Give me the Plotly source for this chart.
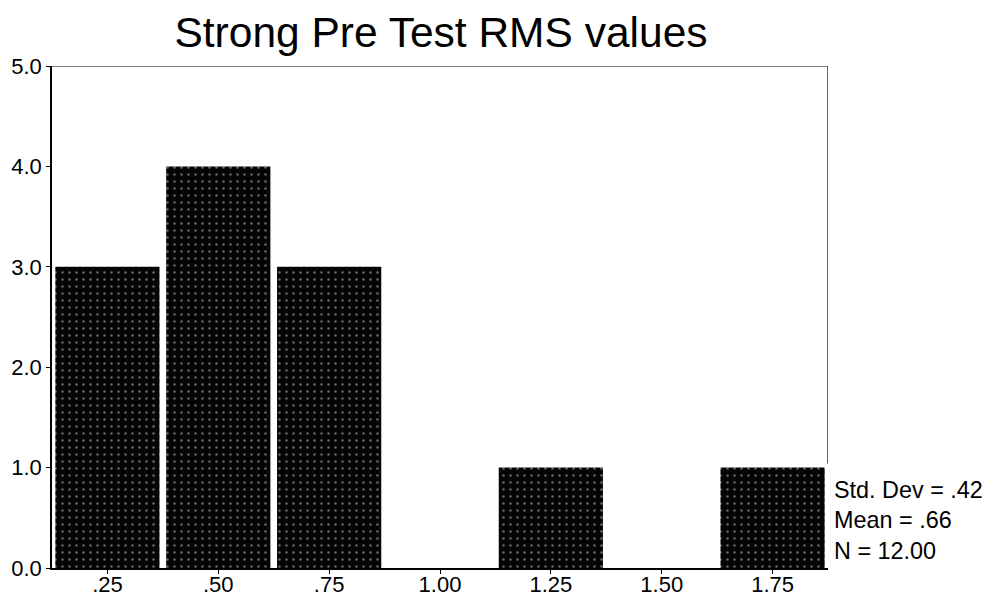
import plotly.graph_objects as go

bin_centers = [0.25, 0.50, 0.75, 1.00, 1.25, 1.50, 1.75]
counts = [3, 4, 3, 0, 1, 0, 1]
x_tick_labels = [".25", ".50", ".75", "1.00", "1.25", "1.50", "1.75"]
y_tick_vals = [0, 1, 2, 3, 4, 5]
stats_lines = ["Std. Dev = .42", "Mean = .66", "N = 12.00"]
title_text = "Strong Pre Test RMS values"

font_family = "Liberation Sans, Arial, sans-serif"

# the page body adds an 8px offset; size the figure so it fills the window
W, H = 987, 594

fig = go.Figure()
fig.add_trace(go.Bar(
    x=bin_centers,
    y=counts,
    width=0.235,
    marker=dict(
        color="#050505",
        line=dict(width=0),
        pattern=dict(shape=".", fgcolor="#cfcfcf", bgcolor="#050505",
                     size=7, solidity=0.1),
    ),
    hoverinfo="x+y",
))

fig.update_layout(
    width=W, height=H,
    margin=dict(l=44, r=167, t=58, b=34),
    paper_bgcolor="white",
    plot_bgcolor="white",
    showlegend=False,
    font=dict(family=font_family, color="black", size=22),
    title=dict(text=title_text, x=433 / W, xanchor="center",
               y=1 - 24 / H, yanchor="middle",
               font=dict(size=42.5, family=font_family, color="black")),
)

fig.update_xaxes(
    range=[0.125, 1.875],
    tickvals=bin_centers,
    ticktext=x_tick_labels,
    showgrid=False, zeroline=False,
    showline=True, linecolor="black", linewidth=1.5,
    ticks="outside", ticklen=4, tickcolor="black",
    tickfont=dict(size=22),
    ticklabelstandoff=-8,
    automargin=False,
)
fig.update_yaxes(
    range=[0, 5],
    tickvals=y_tick_vals,
    tickformat=".1f",
    showgrid=False, zeroline=False,
    showline=True, linecolor="black", linewidth=1.5,
    ticks="outside", ticklen=4, tickcolor="black",
    tickfont=dict(size=22),
    automargin=False,
)

# top border and partial right border
fig.add_shape(type="line", xref="x", yref="y", x0=0.125, x1=1.875, y0=5, y1=5,
              line=dict(color="black", width=1.2))
fig.add_shape(type="line", xref="x", yref="y", x0=1.875, x1=1.875, y0=5, y1=1.04,
              line=dict(color="black", width=1.2))

fig.add_annotation(
    xref="paper", yref="paper", x=1.0, y=0.0, xanchor="left", yanchor="bottom",
    xshift=4, yshift=2,
    text="<br>".join(stats_lines), align="left", showarrow=False,
    font=dict(size=23.4, family=font_family, color="black"),
)

fig.write_html("out.html")
